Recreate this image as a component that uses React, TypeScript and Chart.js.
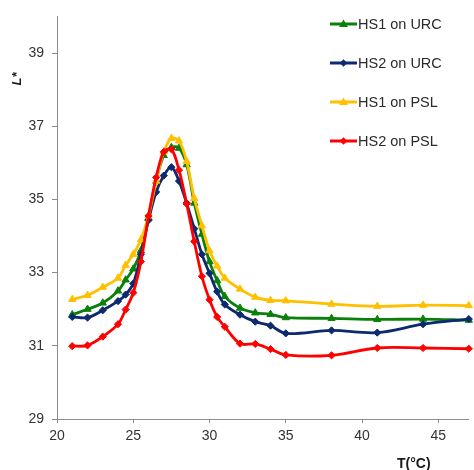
import React, { useEffect, useRef } from "react";
import { Chart, registerables } from "chart.js";

Chart.register(...registerables);

const temps = [21, 22, 23, 24, 24.5, 25, 25.5, 26, 26.5, 27, 27.5, 28, 28.5, 29, 29.5, 30, 30.5, 31, 32, 33, 34, 35, 38, 41, 44, 47];

const hs1OnUrc = [31.85, 32.0, 32.17, 32.5, 32.8, 33.1, 33.6, 34.5, 35.5, 36.2, 36.42, 36.4, 35.95, 34.9, 34.05, 33.3, 32.78, 32.35, 32.03, 31.9, 31.86, 31.77, 31.75, 31.72, 31.73, 31.7];
const hs2OnUrc = [31.79, 31.77, 31.97, 32.22, 32.4, 32.7, 33.5, 34.43, 35.2, 35.65, 35.88, 35.5, 34.9, 34.2, 33.5, 32.98, 32.48, 32.13, 31.85, 31.66, 31.55, 31.34, 31.42, 31.36, 31.59, 31.73];
const hs1OnPsl = [32.27, 32.38, 32.6, 32.85, 33.2, 33.5, 33.9, 34.55, 35.5, 36.3, 36.67, 36.6, 36.04, 35.03, 34.28, 33.6, 33.18, 32.85, 32.55, 32.33, 32.24, 32.23, 32.14, 32.08, 32.11, 32.1];
const hs2OnPsl = [30.99, 31.01, 31.25, 31.59, 31.99, 32.45, 33.3, 34.55, 35.6, 36.3, 36.37, 35.8, 34.88, 33.85, 32.9, 32.26, 31.79, 31.52, 31.06, 31.05, 30.91, 30.75, 30.74, 30.94, 30.94, 30.92];

const seriesNames = ["HS1 on URC", "HS2 on URC", "HS1 on PSL", "HS2 on PSL"];
const xTicks = [20, 25, 30, 35, 40, 45];
const yTicks = [29, 31, 33, 35, 37, 39];
const xTitle = "T(°C)";
const yTitle = "L*";

const colors = ["#0a800a", "#0d2a6e", "#ffc000", "#ff0000"];
const styles = ["triangle", "rectRot", "triangle", "rectRot"];

export default function App() {
  const ref = useRef<HTMLCanvasElement | null>(null);

  useEffect(() => {
    if (!ref.current) return;
    const values = [hs1OnUrc, hs2OnUrc, hs1OnPsl, hs2OnPsl];
    const orders = [4, 3, 2, 1];
    const datasets = values.map((vals, i) => ({
      label: seriesNames[i],
      data: temps.map((t, j) => ({ x: t, y: vals[j] })),
      borderColor: colors[i],
      backgroundColor: colors[i],
      pointBackgroundColor: colors[i],
      pointBorderColor: colors[i],
      pointStyle: styles[i] as any,
      pointRadius: styles[i] === "triangle" ? 4.2 : 3.6,
      pointBorderWidth: 1,
      borderWidth: 2.8,
      tension: 0.35,
      order: orders[i],
      clip: false as any,
    }));

    const overlay = {
      id: "overlay",
      afterDraw(chart: any) {
        const ctx = chart.ctx;
        ctx.save();
        // legend
        const lx0 = 330, lx1 = 357;
        const ys = [24, 63, 102, 141];
        seriesNames.forEach((name, i) => {
          const y = ys[i];
          ctx.strokeStyle = colors[i];
          ctx.lineWidth = 3;
          ctx.beginPath();
          ctx.moveTo(lx0, y);
          ctx.lineTo(lx1, y);
          ctx.stroke();
          ctx.fillStyle = colors[i];
          ctx.beginPath();
          const cx = (lx0 + lx1) / 2;
          if (styles[i] === "triangle") {
            ctx.moveTo(cx, y - 4.5);
            ctx.lineTo(cx + 4.5, y + 3);
            ctx.lineTo(cx - 4.5, y + 3);
          } else {
            ctx.moveTo(cx, y - 3.8);
            ctx.lineTo(cx + 3.8, y);
            ctx.lineTo(cx, y + 3.8);
            ctx.lineTo(cx - 3.8, y);
          }
          ctx.closePath();
          ctx.fill();
          ctx.fillStyle = "#2b2b2b";
          ctx.font = "14.5px 'Liberation Sans', Arial, sans-serif";
          ctx.textAlign = "left";
          ctx.textBaseline = "middle";
          ctx.fillText(name, lx1 + 1, y + 1);
        });
        // axis titles
        ctx.fillStyle = "#1a1a1a";
        ctx.font = "bold 14px 'Liberation Sans', Arial, sans-serif";
        ctx.textAlign = "left";
        ctx.textBaseline = "middle";
        ctx.fillText(xTitle, 397, 464);
        ctx.translate(17, 79);
        ctx.rotate(-Math.PI / 2);
        ctx.font = "italic bold 13px 'Liberation Sans', Arial, sans-serif";
        ctx.textAlign = "center";
        ctx.fillText(yTitle, 0, 0);
        ctx.restore();
      },
    };

    const chart = new Chart(ref.current, {
      type: "line",
      data: { datasets: datasets as any },
      options: {
        animation: false,
        responsive: true,
        maintainAspectRatio: false,
        layout: { padding: { top: 9, right: 3, left: 0, bottom: 0 } },
        plugins: { legend: { display: false }, tooltip: { enabled: false } },
        scales: {
          x: {
            type: "linear",
            min: 20,
            max: 47,
            afterBuildTicks: (s: any) => {
              s.ticks = xTicks.map((v) => ({ value: v }));
            },
            afterFit: (s: any) => {
              s.height = 51;
            },
            border: { display: true, color: "#8c8c8c", width: 1 },
            grid: { display: true, drawOnChartArea: false, drawTicks: true, tickLength: 4, color: "#8c8c8c" },
            ticks: {
              color: "#333333",
              font: { family: "'Liberation Sans', Arial, sans-serif", size: 14 },
              padding: 5,
              maxRotation: 0,
            },
          },
          y: {
            type: "linear",
            min: 29,
            max: 40,
            afterBuildTicks: (s: any) => {
              s.ticks = yTicks.map((v) => ({ value: v }));
            },
            afterFit: (s: any) => {
              s.width = 57;
            },
            border: { display: true, color: "#8c8c8c", width: 1 },
            grid: { display: true, drawOnChartArea: false, drawTicks: true, tickLength: 5, color: "#8c8c8c" },
            ticks: {
              color: "#333333",
              font: { family: "'Liberation Sans', Arial, sans-serif", size: 14 },
              padding: 8,
            },
          },
        },
      },
      plugins: [overlay],
    });
    return () => chart.destroy();
  }, []);

  return (
    <div style={{ position: "fixed", left: 0, top: 0, width: 474, height: 470, background: "#ffffff" }}>
      <canvas ref={ref} />
    </div>
  );
}
